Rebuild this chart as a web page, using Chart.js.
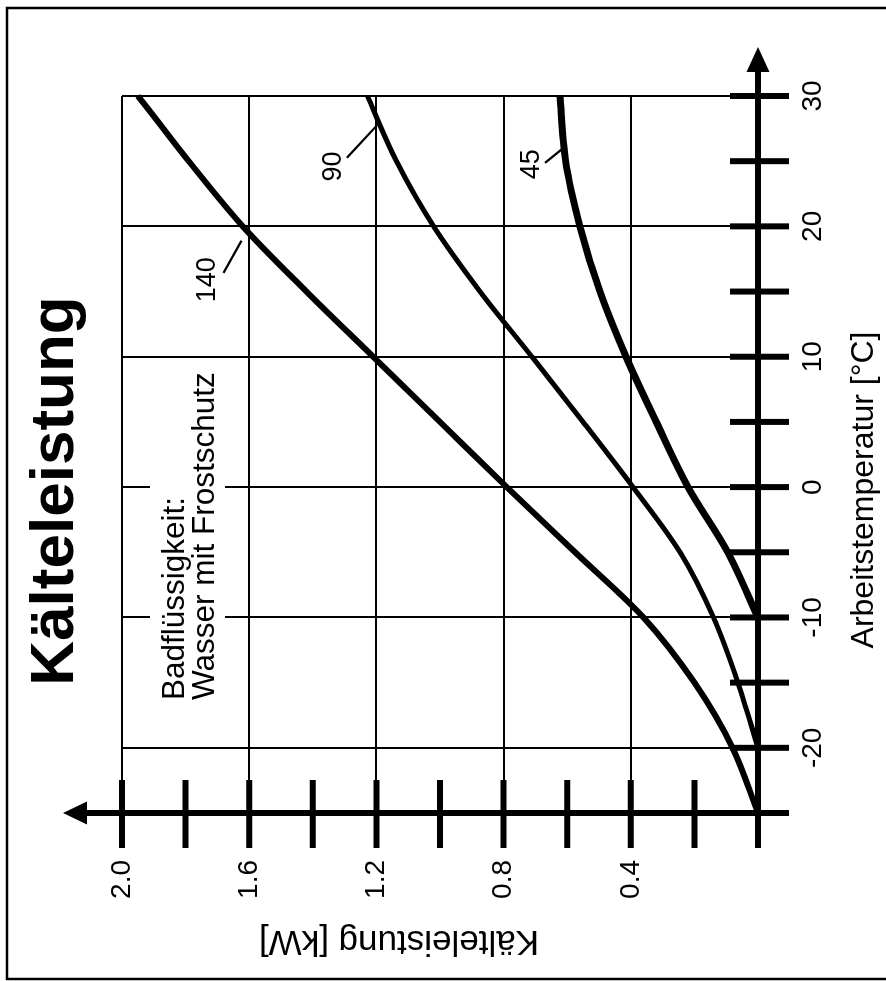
<!DOCTYPE html>
<html>
<head>
<meta charset="utf-8">
<title>Kälteleistung</title>
<script src="https://cdn.jsdelivr.net/npm/chart.js@4.4.1/dist/chart.umd.min.js"></script>
<style>
  html, body { margin: 0; padding: 0; background: #fff; }
  #page { position: relative; width: 886px; height: 981px; overflow: hidden; background: #fff; }
  /* the sheet is laid out landscape and turned a quarter turn counter-clockwise */
  #turn { position: absolute; left: 0; top: 0; width: 981px; height: 886px;
          transform-origin: 0 0; transform: translate(0, 981px) rotate(-90deg); }
  canvas { display: block; }
</style>
</head>
<body>
<div id="page"><div id="turn"><canvas id="c" width="981" height="886"></canvas></div></div>
<script>
// Arbeitstemperatur [°C] and Kälteleistung [kW] for the three curves
const temps140 = [-25, -20, -15, -10, -5, 0, 5, 10, 15, 20, 25, 30, 30.35];
const power140 = [0, 0.08, 0.2, 0.36, 0.575, 0.79, 1.0, 1.21, 1.42, 1.62, 1.79, 1.95, 1.962];

const temps90 = [-20, -15, -10, -5, 0, 5, 10, 15, 20, 25, 30, 30.35];
const power90 = [0, 0.063, 0.14, 0.245, 0.393, 0.55, 0.711, 0.874, 1.02, 1.137, 1.228, 1.234];

const temps45 = [-10, -5, 0, 5, 10, 15, 20, 25, 30, 30.35];
const power45 = [0, 0.095, 0.22, 0.32, 0.415, 0.497, 0.56, 0.605, 0.623, 0.624];

// axis ticks
const tempLabels = [-20, -10, 0, 10, 20, 30];
const powerLabels = [0.4, 0.8, 1.2, 1.6, 2.0];
const tempMarks = [-25, -20, -15, -10, -5, 0, 5, 10, 15, 20, 25, 30];
const powerMarks = [0, 0.2, 0.4, 0.6, 0.8, 1.0, 1.2, 1.4, 1.6, 1.8, 2.0];

const curveNames = ['140', '90', '45'];

// name tags with leader lines, in axis units [temperature, power]
const tagPlaces = [
  { text: '140', at: [15.9, 1.73],  from: [16.43, 1.681], to: [18.9, 1.624] },
  { text: '90',  at: [24.6, 1.336], from: [25.26, 1.293], to: [27.73, 1.199] },
  { text: '45',  at: [24.77, 0.711], from: [24.87, 0.670], to: [25.91, 0.617] }
];

const noteLines = ['Badflüssigkeit:', 'Wasser mit Frostschutz'];

const FONT = '"Liberation Sans", Arial, Helvetica, sans-serif';

function toPoints(ts, ps) {
  return ts.map((t, i) => ({ x: t, y: ps[i] }));
}

const decor = {
  id: 'decor',
  beforeDraw(chart) {
    const { ctx } = chart;
    ctx.save();
    ctx.fillStyle = '#fff';
    ctx.fillRect(0, 0, chart.width, chart.height);
    // sheet frame
    ctx.strokeStyle = '#000';
    ctx.lineWidth = 2.5;
    ctx.beginPath();
    ctx.moveTo(2, chart.height + 5);
    ctx.lineTo(2, 7);
    ctx.lineTo(973, 7);
    ctx.lineTo(973, chart.height + 5);
    ctx.stroke();
    ctx.restore();
  },
  beforeDatasetsDraw(chart) {
    // note on the bath liquid, set on a white patch over the grid
    const { ctx } = chart;
    ctx.save();
    ctx.font = '31.5px ' + FONT;
    const w = Math.max(...noteLines.map(s => ctx.measureText(s).width));
    ctx.fillStyle = '#fff';
    ctx.fillRect(277, 150, w + 8, 75);
    ctx.fillStyle = '#000';
    ctx.textAlign = 'left';
    ctx.textBaseline = 'alphabetic';
    ctx.fillText(noteLines[0], 281, 184);
    ctx.fillText(noteLines[1], 281, 214);
    ctx.restore();
  },
  afterDatasetsDraw(chart) {
    const { ctx } = chart;
    const xs = chart.scales.x, ys = chart.scales.y;
    const x0 = xs.getPixelForValue(-25);
    const y0 = ys.getPixelForValue(0);
    const xEnd = xs.getPixelForValue(30);
    const yEnd = ys.getPixelForValue(2.0);
    ctx.save();
    ctx.strokeStyle = '#000';
    ctx.fillStyle = '#000';
    ctx.lineCap = 'butt';

    // axes with arrow heads
    ctx.lineWidth = 6;
    ctx.beginPath();
    ctx.moveTo(x0 - 35, y0); ctx.lineTo(xEnd + 27, y0);
    ctx.moveTo(x0, y0 + 31); ctx.lineTo(x0, yEnd - 37);
    ctx.stroke();
    ctx.beginPath();
    ctx.moveTo(xEnd + 49, y0); ctx.lineTo(xEnd + 24, y0 - 11.5); ctx.lineTo(xEnd + 24, y0 + 11.5); ctx.closePath();
    ctx.moveTo(x0, yEnd - 59); ctx.lineTo(x0 - 11.5, yEnd - 35); ctx.lineTo(x0 + 11.5, yEnd - 35); ctx.closePath();
    ctx.fill();

    // tick marks crossing the axes
    ctx.lineWidth = 6;
    ctx.beginPath();
    tempMarks.forEach(t => {
      const u = xs.getPixelForValue(t);
      ctx.moveTo(u, y0 - 28); ctx.lineTo(u, y0 + 31);
    });
    powerMarks.forEach(p => {
      const v = ys.getPixelForValue(p);
      ctx.moveTo(x0 - 35, v); ctx.lineTo(x0 + 33, v);
    });
    ctx.stroke();

    // curve tags
    ctx.lineWidth = 2.2;
    ctx.font = '27px ' + FONT;
    ctx.textAlign = 'center';
    ctx.textBaseline = 'middle';
    tagPlaces.forEach(tag => {
      ctx.beginPath();
      ctx.moveTo(xs.getPixelForValue(tag.from[0]), ys.getPixelForValue(tag.from[1]));
      ctx.lineTo(xs.getPixelForValue(tag.to[0]), ys.getPixelForValue(tag.to[1]));
      ctx.stroke();
      ctx.fillText(tag.text, xs.getPixelForValue(tag.at[0]), ys.getPixelForValue(tag.at[1]));
    });

    // heading
    ctx.textAlign = 'center';
    ctx.textBaseline = 'alphabetic';
    ctx.font = 'bold 62px ' + FONT;
    ctx.fillText('Kälteleistung', 490, 73);

    // axis titles
    ctx.font = '32px ' + FONT;
    ctx.fillText('Arbeitstemperatur [°C]', 491, 873);
    ctx.font = '35px ' + FONT;
    ctx.translate(50, 399);
    ctx.rotate(-Math.PI / 2);
    ctx.fillText('Kälteleistung [kW]', 0, 0);
    ctx.restore();
  }
};

const widths = [6, 5, 7];
const series = [
  toPoints(temps140, power140),
  toPoints(temps90, power90),
  toPoints(temps45, power45)
];

new Chart(document.getElementById('c'), {
  type: 'line',
  data: {
    datasets: series.map((pts, i) => ({
      label: curveNames[i],
      data: pts,
      borderColor: '#000',
      borderWidth: widths[i],
      pointRadius: 0,
      fill: false,
      cubicInterpolationMode: 'monotone',
      borderCapStyle: 'butt',
      clip: 10
    }))
  },
  options: {
    responsive: false,
    animation: false,
    devicePixelRatio: 1,
    layout: { padding: { top: 122, right: 96, left: 0, bottom: 0 } },
    plugins: { legend: { display: false }, tooltip: { enabled: false }, title: { display: false } },
    scales: {
      x: {
        type: 'linear',
        min: -25, max: 30,
        afterFit: s => { s.height = 128; },
        afterBuildTicks: s => { s.ticks = tempLabels.map(v => ({ value: v })); },
        grid: { color: '#000', lineWidth: 2, drawTicks: false },
        border: { display: false },
        ticks: {
          color: '#000', padding: 38, maxRotation: 0, autoSkip: false,
          font: { family: FONT, size: 28 },
          callback: v => String(v)
        }
      },
      y: {
        type: 'linear',
        min: 0, max: 2.0,
        afterFit: s => { s.width = 168; },
        afterBuildTicks: s => { s.ticks = powerLabels.map(v => ({ value: v })); },
        grid: { color: '#000', lineWidth: 2, drawTicks: false },
        border: { display: false },
        ticks: {
          color: '#000', padding: 47, autoSkip: false,
          font: { family: FONT, size: 28 },
          callback: v => Number(v).toFixed(1)
        }
      }
    }
  },
  plugins: [decor]
});
</script>
</body>
</html>
